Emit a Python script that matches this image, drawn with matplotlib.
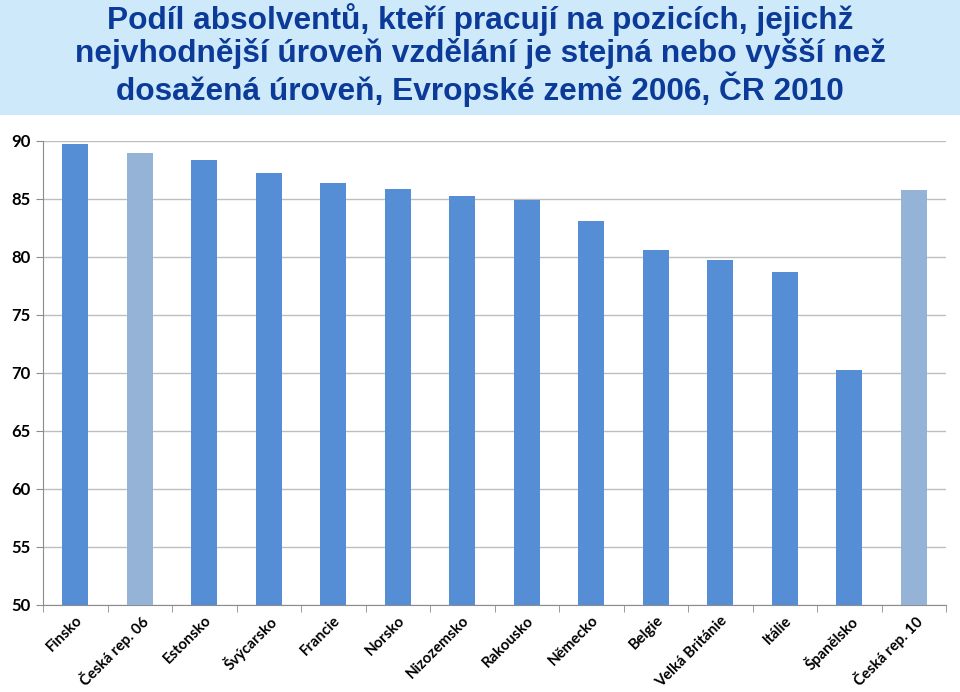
import matplotlib.pyplot as plt
from matplotlib.patches import Rectangle
from matplotlib.transforms import ScaledTranslation
import numpy as np

countries = ["Finsko", "Česká rep. 06", "Estonsko", "Švýcarsko", "Francie", "Norsko",
             "Nizozemsko", "Rakousko", "Německo", "Belgie", "Velká Británie",
             "Itálie", "Španělsko", "Česká rep. 10"]
values = [89.7, 89.0, 88.4, 87.2, 86.4, 85.9, 85.3, 84.9, 83.1, 80.6, 79.7, 78.7, 70.3, 85.8]
czech = ["Česká rep. 06", "Česká rep. 10"]

dark = "#558ED5"
light = "#95B3D7"
colors = [light if c in czech else dark for c in countries]

fig = plt.figure(figsize=(9.6, 6.92), dpi=100)
fig.patches.append(Rectangle((0, 1 - 115/692), 1, 115/692, transform=fig.transFigure,
                             facecolor="#CDE9FA", edgecolor="none", zorder=0))
fig.text(0.5, 1 - 55/692,
         "Podíl absolventů, kteří pracují na pozicích, jejichž\n"
         "nejvhodnější úroveň vzdělání je stejná nebo vyšší než\n"
         "dosažená úroveň, Evropské země 2006, ČR 2010",
         ha="center", va="center", fontsize=22.8, fontweight="bold",
         color="#0B3A98", family="Liberation Sans", linespacing=1.1)

ax = fig.add_axes([43/960, 1 - 605/692, 903/960, 464/692])
x = np.arange(len(countries))
ax.bar(x, values, width=0.4, color=colors, zorder=3)

ax.set_ylim(50, 90)
ax.set_xlim(-0.5, len(countries) - 0.5)
ax.set_yticks(range(50, 91, 5))
ax.yaxis.grid(True, color="#BEBEBE", linewidth=1, zorder=0)
ax.set_xticks(x)
ax.set_xticklabels(countries, rotation=45, ha="right", rotation_mode="anchor",
                   fontsize=10.8, fontweight="bold", family="Lato")
shift = ScaledTranslation(8/100, 0, fig.dpi_scale_trans)
for lab in ax.get_xticklabels():
    lab.set_transform(lab.get_transform() + shift)
ax.set_xticks(np.arange(-0.5, len(countries)), minor=True)
ax.tick_params(axis="x", which="major", length=0, pad=6)
ax.tick_params(axis="x", which="minor", length=5, color="#8C8C8C")
ax.tick_params(axis="y", length=5, color="#8C8C8C", labelsize=12, pad=4)
for lab in ax.get_yticklabels():
    lab.set_fontweight("bold")
    lab.set_family("Lato")

for s in ["top", "right"]:
    ax.spines[s].set_visible(False)
for s in ["left", "bottom"]:
    ax.spines[s].set_color("#8C8C8C")

fig.savefig("out.png", dpi=100)
